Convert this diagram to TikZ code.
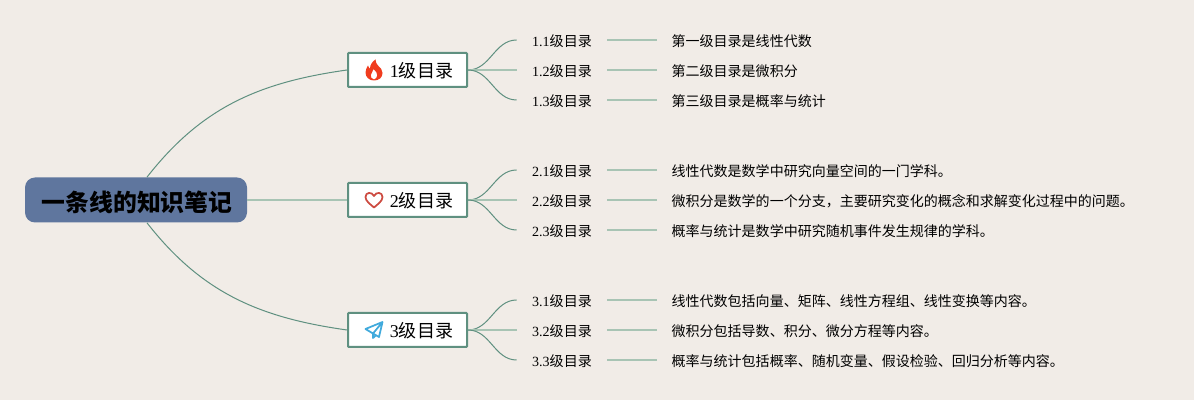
\documentclass[tikz,border=0pt]{standalone}
\usepackage{fontspec}
\setmainfont{Liberation Serif}
\newfontfamily\cjk{Noto Sans CJK SC}
\usetikzlibrary{positioning}
\definecolor{PaperBg}{RGB}{241,236,231}
\definecolor{MapGreen}{RGB}{95,144,128}
\definecolor{PaleGreen}{RGB}{168,196,180}
\definecolor{RootBlue}{RGB}{95,118,158}
\definecolor{FlameRed}{RGB}{240,60,30}
\definecolor{HeartRed}{RGB}{205,75,65}
\definecolor{PlaneBlue}{RGB}{65,170,220}

\begin{document}
\begin{tikzpicture}[
  root/.style={fill=RootBlue,rounded corners=0.2cm,minimum width=4.44cm,minimum height=0.9cm,
               inner sep=0pt,text height=0.5cm,text depth=0.04cm,
               font=\cjk\bfseries\fontsize{13.55}{16}\selectfont},
  topic/.style={draw=MapGreen,fill=white,line width=0.04cm,rounded corners=0.5pt,
                minimum width=2.38cm,minimum height=0.68cm,inner sep=0pt,
                text height=0.34cm,text depth=0.02cm,font=\fontsize{10.25}{12}\selectfont},
  sub/.style={minimum width=1.8cm,inner sep=0pt,text height=0.3cm,text depth=0.02cm,
              font=\fontsize{8}{10}\selectfont},
  leaf/.style={anchor=west,inner sep=0pt,inner xsep=0.28cm,text height=0.3cm,text depth=0.02cm,
               font=\cjk\fontsize{7.97}{10}\selectfont},
  link/.style={MapGreen,line width=0.02cm},
  flat/.style={PaleGreen,line width=0.04cm},
]
\fill[PaperBg] (0,0) rectangle (23.88,8);
\node[root] (root) at (2.72,4.0) {\hspace*{0.04cm}一条线的知识笔记};
\node[topic] (t1) at (8.15,6.6) {\hspace*{0.56cm}1{\cjk 级目录}};
\node[topic] (t2) at (8.15,4.0) {\hspace*{0.56cm}2{\cjk 级目录}};
\node[topic] (t3) at (8.15,1.4) {\hspace*{0.56cm}3{\cjk 级目录}};
% second level
\node[sub] (s11) at (11.24,7.2) {1.1{\cjk 级目录}};
\node[sub] (s12) at (11.24,6.6) {1.2{\cjk 级目录}};
\node[sub] (s13) at (11.24,6.0) {1.3{\cjk 级目录}};
\node[sub] (s21) at (11.24,4.6) {2.1{\cjk 级目录}};
\node[sub] (s22) at (11.24,4.0) {2.2{\cjk 级目录}};
\node[sub] (s23) at (11.24,3.4) {2.3{\cjk 级目录}};
\node[sub] (s31) at (11.24,2.0) {3.1{\cjk 级目录}};
\node[sub] (s32) at (11.24,1.4) {3.2{\cjk 级目录}};
\node[sub] (s33) at (11.24,0.8) {3.3{\cjk 级目录}};
% text
\node[leaf,right=1cm of s11] (n11) {第一级目录是线性代数};
\node[leaf,right=1cm of s12] (n12) {第二级目录是微积分};
\node[leaf,right=1cm of s13] (n13) {第三级目录是概率与统计};
\node[leaf,right=1cm of s21] (n21) {线性代数是数学中研究向量空间的一门学科。};
\node[leaf,right=1cm of s22] (n22) {微积分是数学的一个分支，主要研究变化的概念和求解变化过程中的问题。};
\node[leaf,right=1cm of s23] (n23) {概率与统计是数学中研究随机事件发生规律的学科。};
\node[leaf,right=1cm of s31] (n31) {线性代数包括向量、矩阵、线性方程组、线性变换等内容。};
\node[leaf,right=1cm of s32] (n32) {微积分包括导数、积分、微分方程等内容。};
\node[leaf,right=1cm of s33] (n33) {概率与统计包括概率、随机变量、假设检验、回归分析等内容。};
% root to topics
\draw[link] ([xshift=0.22cm]root.north) to[out=52,in=188] (t1.west);
\draw[flat] (root.east) -- (t2.west);
\draw[link] ([xshift=0.22cm]root.south) to[out=-52,in=172] (t3.west);
% topics to second level
\draw[link] (t1.east) to[out=0,in=180] (s11.west);
\draw[flat] (t1.east) -- (s12.west);
\draw[link] (t1.east) to[out=0,in=180] (s13.west);
\draw[link] (t2.east) to[out=0,in=180] (s21.west);
\draw[flat] (t2.east) -- (s22.west);
\draw[link] (t2.east) to[out=0,in=180] (s23.west);
\draw[link] (t3.east) to[out=0,in=180] (s31.west);
\draw[flat] (t3.east) -- (s32.west);
\draw[link] (t3.east) to[out=0,in=180] (s33.west);
% second level to text
\draw[flat] (s11) -- (n11);
\draw[flat] (s12) -- (n12);
\draw[flat] (s13) -- (n13);
\draw[flat] (s21) -- (n21);
\draw[flat] (s22) -- (n22);
\draw[flat] (s23) -- (n23);
\draw[flat] (s31) -- (n31);
\draw[flat] (s32) -- (n32);
\draw[flat] (s33) -- (n33);
% icons
\begin{scope}[shift={([xshift=0.54cm]t1.west)},x=0.02cm,y=-0.02cm]
  \fill[FlameRed,even odd rule] (0,10.5) .. controls (-5,10.5) and (-8.5,7) .. (-8.5,2.5)
    .. controls (-8.5,-0.5) and (-7,-2.5) .. (-6,-4.5) .. controls (-5.5,-3) and (-5,-2) .. (-4,-1.5)
    .. controls (-4,-5.5) and (-1.5,-8.5) .. (1.5,-10.5) .. controls (1.5,-8) and (2.5,-6) .. (4,-4.5)
    .. controls (6.5,-2.5) and (8.5,0) .. (8.5,3) .. controls (8.5,7.5) and (5,10.5) .. (0,10.5) -- cycle
    (0,9.5) .. controls (-2.5,9) and (-3.5,7) .. (-3.2,5) .. controls (-2.8,3) and (-1,1.5) .. (-0.5,-1)
    .. controls (2,1) and (3.5,3.5) .. (3.2,5.5) .. controls (3,7.5) and (1.8,9) .. (0,9.5) -- cycle;
\end{scope}
\begin{scope}[shift={([xshift=0.54cm]t2.west)},x=0.02cm,y=-0.02cm]
  \draw[HeartRed,line width=0.035cm,line join=round] (0,7.5) .. controls (-4,4) and (-8.5,1) .. (-8.5,-3)
    .. controls (-8.5,-8) and (-2,-8.5) .. (0,-4) .. controls (2,-8.5) and (8.5,-8) .. (8.5,-3)
    .. controls (8.5,1) and (4,4) .. (0,7.5) -- cycle;
\end{scope}
\begin{scope}[shift={([xshift=0.54cm]t3.west)},x=0.02cm,y=-0.02cm]
  \draw[PlaneBlue,line width=0.035cm,line join=round] (-8.5,-1) -- (8.5,-8) -- (5,7) -- (-1,3.5) -- cycle
    (8.5,-8) -- (-1,3.5) -- (-1,8) -- (2,5.2);
\end{scope}
\end{tikzpicture}
\end{document}
